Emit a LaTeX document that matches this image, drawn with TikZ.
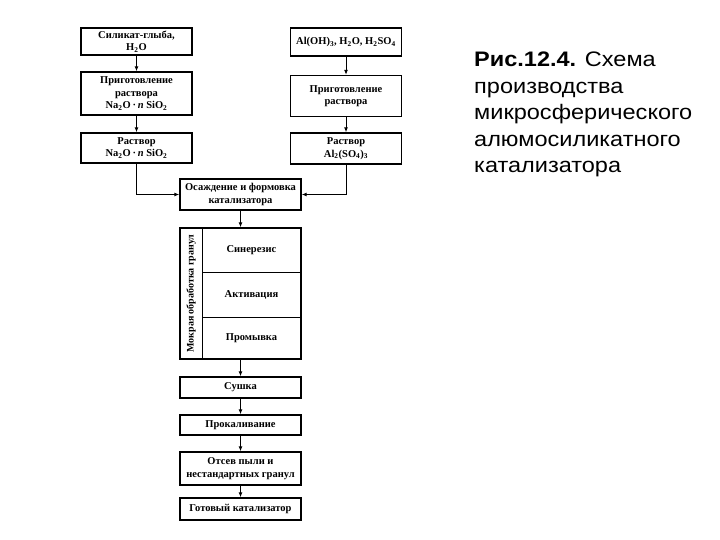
\documentclass[tikz,border=0pt]{standalone}
\usepackage{fontspec}
\setmainfont{Liberation Serif}
\newfontfamily\capfont[FakeStretch=1.12]{Liberation Sans}
\usetikzlibrary{arrows.meta}
\begin{document}
\begin{tikzpicture}[x=1pt,y=-1pt,
  box/.style={draw, line width=1.3pt, font=\bfseries\fontsize{10.5}{12.5}\selectfont, align=center, inner sep=0pt},
  cell/.style={draw, line width=1pt, font=\bfseries\fontsize{10.5}{12.5}\selectfont, align=center, inner sep=0pt},
  arr/.style={-{Latex[length=5pt,width=4pt]}, line width=1pt},
  caption/.style={font=\capfont\fontsize{21}{26.5}\selectfont, align=left, inner sep=0pt, anchor=north west}]
\useasboundingbox (0,0) rectangle (720,540);
\fill[white] (0,0) rectangle (720,540);
% left column
\node[box, minimum width=111pt, minimum height=27pt] (a1) at (136.5,41.5) {Силикат-глыба,\\H\textsubscript{2}O};
\node[box, minimum width=111pt, minimum height=43pt] (a2) at (136.5,93.5) {Приготовление\\раствора\\Na\textsubscript{2}O\,·\,\textit{n} SiO\textsubscript{2}};
\node[box, minimum width=111pt, minimum height=30pt] (a3) at (136.5,148) {Раствор\\Na\textsubscript{2}O\,·\,\textit{n} SiO\textsubscript{2}};
% right column
\node[box, minimum width=111pt, minimum height=28pt] (b1) at (346,42) {Al(OH)\textsubscript{3}, H\textsubscript{2}O, H\textsubscript{2}SO\textsubscript{4}};
\node[box, minimum width=111pt, minimum height=41pt] (b2) at (346,96) {Приготовление\\раствора};
\node[box, minimum width=111pt, minimum height=31pt] (b3) at (346,148.5) {Раствор\\Al\textsubscript{2}(SO\textsubscript{4})\textsubscript{3}};
% central
\node[box, minimum width=121pt, minimum height=31pt] (c) at (240.5,194.5) {Осаждение и формовка\\катализатора};
\node[box, minimum width=121pt, minimum height=131pt] (d) at (240.5,293.5) {};
\node[cell, minimum width=22pt, minimum height=131pt] (strip) at (191,293.5) {};
\node[font=\bfseries\fontsize{10}{11}\selectfont, rotate=90, inner sep=0pt] (striptext) at (strip.center) {Мокрая обработка гранул};
\node[cell, minimum width=99pt, minimum height=44pt] (s1) at (251.5,250) {Синерезис};
\node[cell, minimum width=99pt, minimum height=45pt] (s2) at (251.5,294.5) {Активация};
\node[cell, minimum width=99pt, minimum height=42pt] (s3) at (251.5,338) {Промывка};
\draw[line width=1.3pt] (d.north west) rectangle (d.south east);
\node[box, minimum width=121pt, minimum height=21pt] (e) at (240.5,387.5) {Сушка};
\node[box, minimum width=121pt, minimum height=20pt] (f) at (240.5,425) {Прокаливание};
\node[box, minimum width=121pt, minimum height=33pt] (g) at (240.5,468.5) {Отсев пыли и\\нестандартных гранул};
\node[box, minimum width=121pt, minimum height=22pt] (h) at (240.5,509) {Готовый катализатор};
% arrows
\draw[arr] (a1) -- (a2);
\draw[arr] (a2) -- (a3);
\draw[arr] (b1) -- (b2);
\draw[arr] (b2) -- (b3);
\draw[arr] (a3) |- (c);
\draw[arr] (b3) |- (c);
\draw[arr] (c) -- (d);
\draw[arr] (d) -- (e);
\draw[arr] (e) -- (f);
\draw[arr] (f) -- (g);
\draw[arr] (g) -- (h);
% caption
\node[caption] (cap) at (474,52) {\textbf{Рис.12.4.} Схема\\производства\\микросферического\\алюмосиликатного\\катализатора};
\end{tikzpicture}
\end{document}
